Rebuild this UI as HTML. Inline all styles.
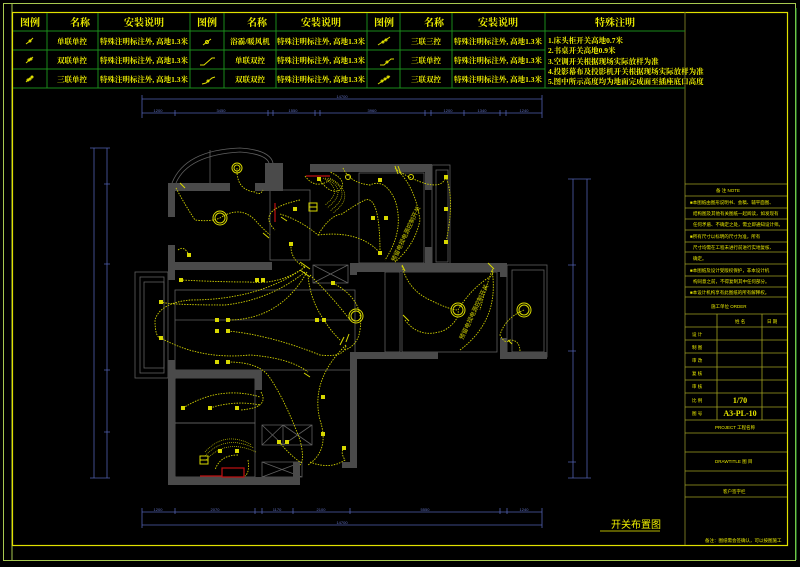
<!DOCTYPE html>
<html><head><meta charset="utf-8"><style>
html,body{margin:0;padding:0;background:#000;}
svg{display:block;}
text{font-family:"Liberation Sans","Noto Sans CJK SC",sans-serif;}
.sf{font-family:"Liberation Serif","Noto Serif CJK SC",serif;font-weight:bold;}
</style></head><body>
<svg width="800" height="567" viewBox="0 0 800 567" xmlns="http://www.w3.org/2000/svg">
<rect width="800" height="567" fill="#000"/>
<rect x="3.5" y="3.5" width="792" height="557" fill="none" stroke="#a8c850" stroke-width="1"/>
<line x1="12" y1="3" x2="12" y2="560" stroke="#a8c850"/>
<line x1="796" y1="8" x2="796" y2="560" stroke="#40c040"/>
<rect x="12.5" y="12.5" width="775" height="533" fill="none" stroke="#e0e000" stroke-width="1.2"/>
<line x1="685" y1="12" x2="685" y2="545" stroke="#707020"/>

<g stroke="#1a8a1a" stroke-width="1" fill="none">
<line x1="13" y1="31" x2="685" y2="31"/>
<line x1="13" y1="50" x2="545" y2="50"/>
<line x1="13" y1="69" x2="545" y2="69"/>
<line x1="13" y1="88" x2="685" y2="88"/>
<line x1="47" y1="13" x2="47" y2="88"/><line x1="98" y1="13" x2="98" y2="88"/>
<line x1="190" y1="13" x2="190" y2="88"/><line x1="224" y1="13" x2="224" y2="88"/>
<line x1="276" y1="13" x2="276" y2="88"/><line x1="367" y1="13" x2="367" y2="88"/>
<line x1="400" y1="13" x2="400" y2="88"/><line x1="452" y1="13" x2="452" y2="88"/>
<line x1="545" y1="13" x2="545" y2="88"/>
</g>
<g fill="#f0f000" font-size="10" text-anchor="middle" class="sf">
<text x="30" y="26" class="sf">图例</text><text x="80" y="26" class="sf">名称</text><text x="144" y="26" class="sf">安装说明</text>
<text x="207" y="26" class="sf">图例</text><text x="257" y="26" class="sf">名称</text><text x="321" y="26" class="sf">安装说明</text>
<text x="384" y="26" class="sf">图例</text><text x="434" y="26" class="sf">名称</text><text x="498" y="26" class="sf">安装说明</text>
<text x="615" y="26" class="sf">特殊注明</text>
</g>
<g fill="#f0f000" font-size="7.5" text-anchor="middle">
<text class="sf" x="72" y="44">单联单控</text><text class="sf" x="144" y="44">特殊注明标注外, 高地1.3米</text>
<text class="sf" x="72" y="63">双联单控</text><text class="sf" x="144" y="63">特殊注明标注外, 高地1.3米</text>
<text class="sf" x="72" y="82">三联单控</text><text class="sf" x="144" y="82">特殊注明标注外, 高地1.3米</text>
<text class="sf" x="250" y="44">浴霸/暖风机</text><text class="sf" x="321" y="44">特殊注明标注外, 高地1.3米</text>
<text class="sf" x="250" y="63">单联双控</text><text class="sf" x="321" y="63">特殊注明标注外, 高地1.3米</text>
<text class="sf" x="250" y="82">双联双控</text><text class="sf" x="321" y="82">特殊注明标注外, 高地1.3米</text>
<text class="sf" x="426" y="44">三联三控</text><text class="sf" x="498" y="44">特殊注明标注外, 高地1.3米</text>
<text class="sf" x="426" y="63">三联单控</text><text class="sf" x="498" y="63">特殊注明标注外, 高地1.3米</text>
<text class="sf" x="426" y="82">三联双控</text><text class="sf" x="498" y="82">特殊注明标注外, 高地1.3米</text>
</g>
<g fill="#f0f000" font-size="7.5">
<text class="sf" x="548" y="43">1.床头柜开关高地0.7米</text>
<text class="sf" x="548" y="53">2.书桌开关高地0.9米</text>
<text class="sf" x="548" y="64">3.空调开关根据现场实际放样为准</text>
<text class="sf" x="548" y="74">4.投影幕布及投影机开关根据现场实际放样为准</text>
<text class="sf" x="548" y="84">5.图中所示高度均为地面完成面至插座底口高度</text>
</g>
<g stroke="#e0e000" stroke-width="1" fill="none">
<path d="M26 44 l4 -3 M30 41 l3 -3"/><circle cx="30" cy="41" r="1"/>
<path d="M26 63 l7 -6"/><circle cx="29" cy="60" r="1"/><circle cx="31" cy="59" r="1"/>
<path d="M26 82 l7 -6"/><circle cx="28" cy="80" r="1"/><circle cx="30" cy="79" r="1"/><circle cx="32" cy="77" r="1"/>
<path d="M203 45 l8 -6"/><circle cx="207" cy="42" r="1.5"/>
<path d="M200 65 l4 0 l8 -7 l3 0"/>
<path d="M202 84 l4 -1 l6 -5 l3 -1"/><circle cx="208" cy="81" r="1"/>
<path d="M378 45 l12 -8"/><circle cx="383" cy="42" r="1"/><circle cx="386" cy="40" r="1"/>
<path d="M380 65 l4 0 l7 -6 l3 0"/><circle cx="387" cy="62" r="1"/>
<path d="M378 84 l12 -8"/><circle cx="382" cy="81" r="1"/><circle cx="385" cy="79" r="1"/><circle cx="388" cy="77" r="1"/>
</g>

<g stroke="#a0a020" stroke-width="0.8" fill="none">
<line x1="685" y1="184" x2="787" y2="184"/><line x1="685" y1="196" x2="787" y2="196"/>
<line x1="685" y1="208" x2="787" y2="208"/><line x1="685" y1="219" x2="787" y2="219"/>
<line x1="685" y1="230" x2="787" y2="230"/><line x1="685" y1="242" x2="787" y2="242"/>
<line x1="685" y1="252" x2="787" y2="252"/><line x1="685" y1="264" x2="787" y2="264"/>
<line x1="685" y1="276" x2="787" y2="276"/><line x1="685" y1="287" x2="787" y2="287"/>
<line x1="685" y1="297" x2="787" y2="297"/><line x1="685" y1="314" x2="787" y2="314"/>
<line x1="685" y1="327" x2="787" y2="327"/><line x1="685" y1="340" x2="787" y2="340"/>
<line x1="685" y1="353" x2="787" y2="353"/><line x1="685" y1="367" x2="787" y2="367"/>
<line x1="685" y1="380" x2="787" y2="380"/><line x1="685" y1="393" x2="787" y2="393"/>
<line x1="685" y1="407" x2="787" y2="407"/><line x1="685" y1="420" x2="787" y2="420"/>
<line x1="685" y1="433" x2="787" y2="433"/><line x1="685" y1="452" x2="787" y2="452"/>
<line x1="685" y1="471" x2="787" y2="471"/><line x1="685" y1="485" x2="787" y2="485"/>
<line x1="685" y1="497" x2="787" y2="497"/>
<line x1="717" y1="314" x2="717" y2="420"/><line x1="762" y1="314" x2="762" y2="420"/>
</g>
<g fill="#e8e800" font-size="4.5">
<text x="716" y="192">备 注        NOTE</text>
<text x="690" y="204">■本图纸由图形说明书、会稿、辅平面图、</text>
<text x="693" y="215">结构图及其他有关图纸一起阅读，如发现有</text>
<text x="693" y="226">任何矛盾、不确定之处，需立即通知设计师。</text>
<text x="690" y="238">■所有尺寸以标明的尺寸为准，所有</text>
<text x="693" y="249">尺寸均需在工程未进行前进行实地复核、</text>
<text x="693" y="260">确定。</text>
<text x="690" y="272">■本图纸及设计受版权保护，非本设计机</text>
<text x="693" y="283">构同意之前，不得复制其中任何部分。</text>
<text x="690" y="294">■本设计机构享有此图纸的所有解释权。</text>
<text x="711" y="308">施工单位        ORDER</text>
<text x="735" y="323">姓 名</text><text x="767" y="323">日 期</text>
<text x="692" y="336">设 计</text><text x="692" y="349">制 图</text><text x="692" y="362">审 改</text>
<text x="692" y="375">复 核</text><text x="692" y="388">审 核</text><text x="692" y="402">比 例</text>
<text x="692" y="415">图 号</text>
<text x="715" y="429">PROJECT     工程名称</text>
<text x="715" y="463">DRAWTITLE     图 目</text>
<text x="723" y="493">客户签字栏</text>
<text x="705" y="542">备注：图纸需会签确认，可以按图施工</text>
</g>
<g fill="#e8e800" font-size="8" text-anchor="middle">
<text class="sf" x="740" y="403">1/70</text><text class="sf" x="740" y="416">A3-PL-10</text>
</g>

<g stroke="#5060b0" stroke-width="0.8" fill="none">
<line x1="142" y1="99" x2="542" y2="99"/><line x1="142" y1="113" x2="542" y2="113"/>
<line x1="142" y1="95" x2="142" y2="118"/><line x1="542" y1="95" x2="542" y2="118"/>
<path d="M175 110v6M268 110v6M273 110v6M315 110v6M320 110v6M425 110v6M431 110v6M464 110v6M500 110v6M506 110v6"/>
<line x1="142" y1="512" x2="542" y2="512"/><line x1="142" y1="525" x2="542" y2="525"/>
<line x1="142" y1="508" x2="142" y2="528"/><line x1="542" y1="508" x2="542" y2="528"/>
<path d="M175 508v6M255 508v6M262 508v6M293 508v6M350 508v6M500 508v6M507 508v6"/>
<line x1="94" y1="148" x2="94" y2="478"/><line x1="107" y1="148" x2="107" y2="478"/>
<path d="M90 148h20M90 478h20M104 184h6M104 264h6M104 370h6M104 432h6"/>
<line x1="573" y1="179" x2="573" y2="478"/><line x1="587" y1="179" x2="587" y2="478"/>
<path d="M568 179h23M568 478h23M568 265h8M568 351h8M568 462h8"/>
</g>
<g fill="#6070c0" font-size="4" text-anchor="middle">
<text x="342" y="98">14700</text><text x="342" y="524">14700</text>
<text x="158" y="112">1200</text><text x="221" y="112">3450</text><text x="293" y="112">1550</text><text x="372" y="112">3960</text><text x="448" y="112">1200</text><text x="482" y="112">1340</text><text x="524" y="112">1240</text>
<text x="158" y="511">1200</text><text x="215" y="511">2070</text><text x="277" y="511">1170</text><text x="321" y="511">2100</text><text x="425" y="511">5550</text><text x="524" y="511">1240</text>
</g>

<g stroke="#606060" stroke-width="0.8" fill="none">
<path d="M172 183 Q185 150 240 148 Q270 150 273 163"/>
<path d="M176 183 Q188 155 240 152 Q266 154 269 163"/>
<line x1="210" y1="150" x2="210" y2="183"/>
<rect x="135" y="272" width="33" height="106"/><rect x="140" y="277" width="24" height="96"/><rect x="144" y="282" width="20" height="86"/>
<rect x="175" y="290" width="180" height="80"/><line x1="175" y1="320" x2="355" y2="320"/>
<rect x="432" y="165" width="18" height="100"/><rect x="436" y="170" width="12" height="92"/>
<rect x="507" y="265" width="40" height="92"/><rect x="512" y="270" width="32" height="82"/>
<rect x="359" y="173" width="65" height="90"/>
<rect x="402" y="272" width="95" height="80"/>
<rect x="385" y="272" width="15" height="80"/>
<path d="M262 425h50v20h-50z M283 425v20 M262 425l21 20M283 425l-21 20M283 425l29 20M312 425l-29 20"/>
<path d="M262 462h40v15h-40z M262 462l40 15M302 462l-40 15"/>
<path d="M313 265h35v18h-35z M313 265l35 18M348 265l-35 18"/>
<rect x="175" y="378" width="80" height="45"/><rect x="175" y="423" width="80" height="54"/>
<rect x="270" y="190" width="40" height="70"/>
</g>

<g fill="#4a4a4a">
<rect x="168" y="183" width="62" height="8"/><rect x="255" y="183" width="28" height="8"/>
<rect x="168" y="183" width="7" height="34"/><rect x="168" y="245" width="7" height="35"/>
<rect x="168" y="262" width="104" height="8"/>
<rect x="265" y="163" width="18" height="28"/>
<rect x="310" y="164" width="122" height="8"/><rect x="425" y="164" width="7" height="26"/>
<rect x="425" y="247" width="7" height="25"/>
<rect x="350" y="263" width="157" height="9"/><rect x="500" y="263" width="7" height="14"/>
<rect x="350" y="263" width="7" height="12"/>
<rect x="350" y="352" width="88" height="7"/><rect x="500" y="352" width="47" height="7"/><rect x="500" y="338" width="7" height="20"/>
<rect x="350" y="352" width="7" height="116"/><rect x="342" y="462" width="15" height="6"/>
<rect x="168" y="360" width="7" height="125"/><rect x="168" y="270" width="7" height="10"/>
<rect x="168" y="370" width="94" height="8"/><rect x="255" y="370" width="7" height="20"/>
<rect x="168" y="477" width="132" height="8"/>
<rect x="293" y="462" width="7" height="23"/>
</g>
<g stroke="#c01010" stroke-width="1.2" fill="none">
<line x1="306" y1="176" x2="330" y2="176"/><line x1="275" y1="203" x2="275" y2="222"/>
<rect x="222" y="468" width="22" height="9"/><line x1="200" y1="476" x2="222" y2="476"/>
</g>

<g stroke="#d0d000" stroke-width="0.9" fill="none" stroke-dasharray="1.5 1.2">
<path d="M237 168 Q236 190 255 192 Q260 196 263 190"/>
<path d="M176 188 Q185 205 195 220 Q210 222 220 218 Q240 205 255 220 Q262 228 270 235"/>
<path d="M178 250 Q184 245 189 255"/>
<path d="M305 176 Q315 190 330 180 M300 200 Q255 210 275 230 M280 214 Q300 220 318 235 Q330 215 342 214 Q355 205 365 200 Q380 195 380 253 M318 235 Q360 230 380 253"/>
<path d="M343 168 Q350 183 370 185 Q385 178 395 200 Q405 230 385 260"/>
<path d="M395 168 Q415 185 420 220 Q415 245 395 262"/>
<path d="M400 172 Q440 195 446 177 Q455 200 446 242"/>
<path d="M319 179 Q330 195 340 190 Q348 180 330 172"/>
<path d="M291 244 Q290 260 305 267"/>
<path d="M305 267 Q280 285 250 282 Q220 282 181 280"/>
<path d="M305 267 Q260 300 190 300 Q160 303 155 320 Q155 338 161 338 Q200 360 250 355 Q290 358 308 372"/>
<path d="M307 272 Q280 320 228 320"/><path d="M305 272 Q270 300 225 305 Q170 305 161 302"/>
<path d="M228 331 Q270 335 320 355 Q345 358 346 345"/>
<path d="M308 275 Q310 300 324 320 Q330 330 340 340"/>
<path d="M333 283 Q365 300 360 330 Q358 345 345 350"/>
<path d="M310 275 Q335 300 350 320"/>
<path d="M346 345 Q310 380 320 420 Q330 450 308 465"/>
<path d="M228 362 Q260 362 270 378 Q285 400 300 440 Q305 460 300 465"/>
<path d="M261 392 Q270 408 240 410 M183 408 Q220 385 260 397"/>
<path d="M210 408 Q235 400 260 405"/>
<path d="M238 455 Q220 455 215 470 M248 460 Q250 472 245 476"/>
<path d="M279 442 Q290 455 300 462 M310 462 Q330 470 345 460 Q340 452 344 448"/>
<path d="M402 266 Q408 290 430 300 Q450 310 458 310 M458 310 Q470 290 488 278 Q495 275 492 268"/>
<path d="M405 320 Q420 340 445 330 Q460 320 458 310"/>
<path d="M460 350 Q500 320 492 270 Q485 290 480 310"/>
<path d="M524 310 Q505 318 500 335 Q505 345 510 340 Q520 340 520 352"/>
</g>
<g stroke="#c8c800" stroke-width="0.7" fill="none" stroke-dasharray="1 1">
<path d="M323 178 Q345 190 325 205"/><path d="M325 178 Q350 190 327 208"/><path d="M328 178 Q355 192 330 211"/><path d="M330 178 Q358 194 333 213"/>
<path d="M205 452 Q225 430 252 445"/><path d="M205 456 Q225 434 254 448"/><path d="M206 460 Q226 438 256 452"/>
</g>

<g fill="#d8d800">
<rect x="317" y="177" width="4" height="4"/><rect x="293" y="207" width="4" height="4"/><rect x="378" y="178" width="4" height="4"/>
<rect x="371" y="216" width="4" height="4"/><rect x="384" y="216" width="4" height="4"/><rect x="378" y="251" width="4" height="4"/>
<rect x="289" y="242" width="4" height="4"/><rect x="187" y="253" width="4" height="4"/><rect x="444" y="175" width="4" height="4"/>
<rect x="444" y="207" width="4" height="4"/><rect x="444" y="240" width="4" height="4"/><rect x="179" y="278" width="4" height="4"/>
<rect x="255" y="278" width="4" height="4"/><rect x="261" y="278" width="4" height="4"/><rect x="331" y="281" width="4" height="4"/>
<rect x="159" y="300" width="4" height="4"/><rect x="159" y="336" width="4" height="4"/><rect x="215" y="318" width="4" height="4"/>
<rect x="226" y="318" width="4" height="4"/><rect x="215" y="329" width="4" height="4"/><rect x="226" y="329" width="4" height="4"/>
<rect x="315" y="318" width="4" height="4"/><rect x="322" y="318" width="4" height="4"/><rect x="215" y="360" width="4" height="4"/>
<rect x="226" y="360" width="4" height="4"/><rect x="181" y="406" width="4" height="4"/><rect x="208" y="406" width="4" height="4"/>
<rect x="235" y="406" width="4" height="4"/><rect x="321" y="395" width="4" height="4"/><rect x="321" y="432" width="4" height="4"/>
<rect x="277" y="440" width="4" height="4"/><rect x="285" y="440" width="4" height="4"/><rect x="218" y="449" width="4" height="4"/>
<rect x="235" y="449" width="4" height="4"/><rect x="342" y="446" width="4" height="4"/>
</g>
<g stroke="#d8d800" fill="none" stroke-width="1">
<circle cx="237" cy="168" r="5"/><circle cx="237" cy="168" r="3"/>
<circle cx="220" cy="218" r="7"/><circle cx="220" cy="218" r="5"/>
<circle cx="356" cy="316" r="7"/><circle cx="356" cy="316" r="5"/>
<circle cx="458" cy="310" r="7"/><circle cx="458" cy="310" r="5"/>
<circle cx="524" cy="310" r="7"/><circle cx="524" cy="310" r="5"/>
<rect x="309" y="203" width="8" height="8"/><line x1="309" y1="207" x2="317" y2="207"/>
<rect x="200" y="456" width="8" height="8"/><line x1="200" y1="460" x2="208" y2="460"/>
<circle cx="348" cy="177" r="2.5"/><circle cx="411" cy="177" r="2.5"/>
<path d="M300 262l10 7M300 270l10 7M304 373l6 4M340 345l4 -8M346 342l3 -8M395 166l3 8M398 166l3 8M402 265l3 6M488 263l6 6M403 315l6 6M508 340l4 4M180 183l5 5M263 233l6 5M281 217l6 4"/>
</g>
<g fill="#d0d000" font-size="6">
<text transform="translate(395,262) rotate(-65)">预留电视电源控制开关</text>
<text transform="translate(463,340) rotate(-65)">预留电视电源控制开关</text>
</g>

<text x="611" y="528" fill="#f0f000" font-size="10">开关布置图</text>
<line x1="600" y1="531" x2="660" y2="531" stroke="#f0f000" stroke-width="0.8"/>
</svg>
</body></html>
